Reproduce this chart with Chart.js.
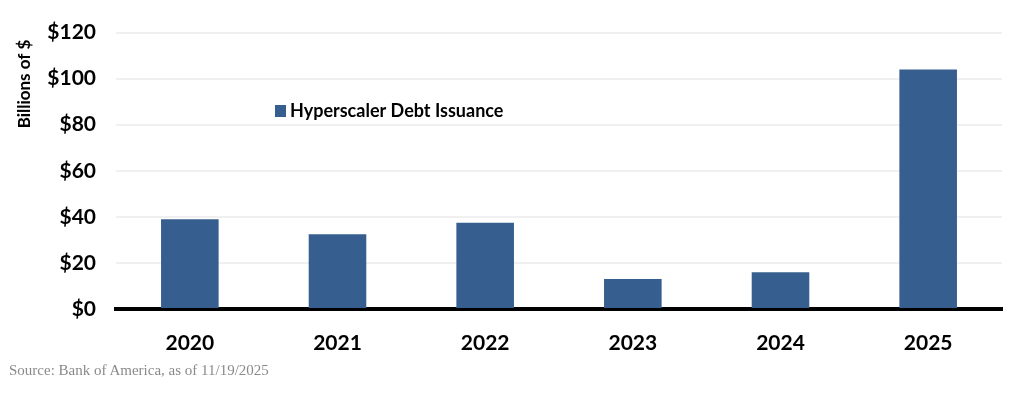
<!DOCTYPE html>
<html>
<head>
<meta charset="utf-8">
<script src="https://cdn.jsdelivr.net/npm/chart.js@4.4.1/dist/chart.umd.min.js"></script>
<style>
    html, body { margin: 0; padding: 0; background: #fff; }
    #wrap { position: relative; width: 1024px; height: 395px; }
    #source {
        position: absolute; left: 9px; top: 362px;
        font-family: "Liberation Serif", "DejaVu Serif", serif;
        font-size: 15px; color: #8a8a8a;
    }
</style>
</head>
<body>
<div id="wrap">
    <canvas id="debt-chart" width="1024" height="395"></canvas>
    <div id="source">Source: Bank of America, as of 11/19/2025</div>
</div>
<script>
    "use strict";

    // Data
    var years = ["2020", "2021", "2022", "2023", "2024", "2025"];
    var issuance = [39, 32.5, 37.5, 13, 16, 104];
    var seriesName = "Hyperscaler Debt Issuance";
    var yTitle = "Billions of $";
    var barColor = "#365f8f";

    // Legend and axis title drawn by hand (placed like the original)
    var extras = {
        id: "extras",
        afterDraw: function (chart) {
            var ctx = chart.ctx;
            var ds = chart.data.datasets[0];
            ctx.save();
            ctx.fillStyle = ds.backgroundColor;
            ctx.fillRect(275, 105, 11, 12);
            ctx.fillStyle = "#000";
            ctx.font = "bold 18px Lato";
            ctx.textBaseline = "middle";
            ctx.fillText(ds.label, 290, 111);

            ctx.translate(25, 84);
            ctx.rotate(-Math.PI / 2);
            ctx.font = "bold 17px Lato";
            ctx.textAlign = "center";
            ctx.fillText(yTitle, 0, 0);
            ctx.restore();
        }
    };

    var ctx1 = document.getElementById("debt-chart").getContext("2d");
    var myChart1 = new Chart(ctx1, {
        type: "bar",
        data: {
            labels: years,
            datasets: [{
                label: seriesName,
                data: issuance,
                backgroundColor: barColor,
                barPercentage: 0.39,
                categoryPercentage: 1
            }]
        },
        options: {
            responsive: false,
            animation: false,
            layout: { padding: { top: 32, right: 22, left: 0, bottom: 0 } },
            plugins: {
                legend: { display: false },
                tooltip: { enabled: false }
            },
            scales: {
                x: {
                    grid: { display: false },
                    border: { display: true, color: "#000", width: 4 },
                    ticks: {
                        color: "#000",
                        padding: 14,
                        font: { family: "Lato", size: 21, weight: "bold" }
                    },
                    afterFit: function (scale) { scale.height = 86; }
                },
                y: {
                    min: 0,
                    max: 120,
                    ticks: {
                        stepSize: 20,
                        color: "#000",
                        padding: 20,
                        font: { family: "Lato", size: 21, weight: "bold" },
                        callback: function (v) { return "$" + v; }
                    },
                    grid: {
                        color: "#f0f0f0",
                        lineWidth: 2,
                        drawTicks: false
                    },
                    border: { display: false },
                    afterFit: function (scale) { scale.width = 116; }
                }
            }
        },
        plugins: [extras]
    });
</script>
</body>
</html>
